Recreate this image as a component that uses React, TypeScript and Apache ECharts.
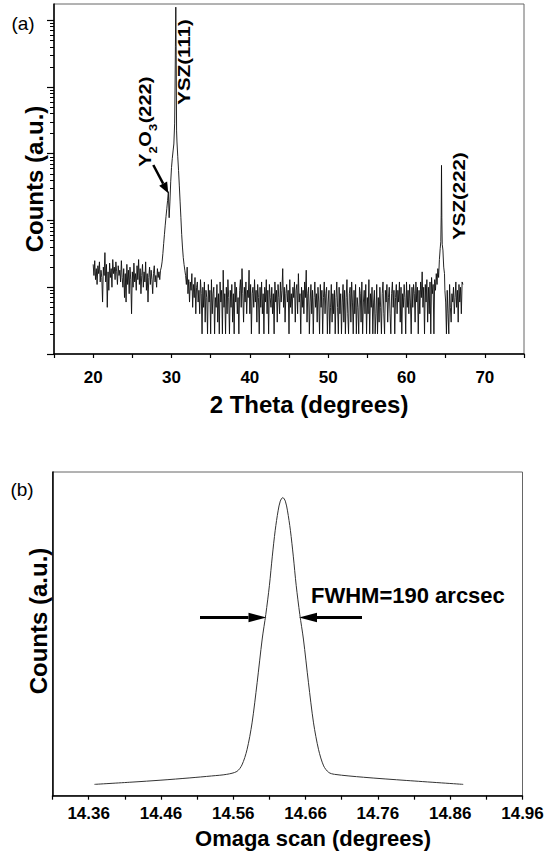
import React, { useEffect, useRef } from 'react';
import * as echarts from 'echarts';

// ---------- (a) XRD 2-theta scan ----------
const thetaStep = 0.1;
const noiseLeftStart = 20.0; // 20.0 .. 28.6
const noiseLeftCounts = [
  22, 15, 25, 13, 19, 11, 21, 16, 24, 12,
  18, 14, 6, 20, 15, 33, 12, 22, 5, 17,
  9, 23, 14, 19, 10, 26, 16, 20, 13, 24,
  17, 11, 21, 15, 18, 12, 25, 14, 10, 19,
  7, 16, 6, 22, 11, 18, 8, 20, 13, 4,
  17, 10, 23, 12, 16, 9, 21, 13, 26, 11,
  19, 8, 15, 22, 10, 17, 12, 24, 9, 16,
  6, 14, 20, 11, 18, 13, 8, 16, 21, 12,
  15, 10, 19, 14, 17, 13, 18,
];
const peak111Theta = [
  28.7, 28.8, 28.9, 29.0, 29.1, 29.2, 29.3, 29.4, 29.5, 29.6, 29.7, 29.8, 29.9, 30.0,
  30.1, 30.2, 30.3, 30.4, 30.45, 30.5, 30.55, 30.6, 30.65, 30.7, 30.8, 30.9, 31.0,
  31.1, 31.2, 31.3, 31.4, 31.5, 31.6, 31.7,
];
const peak111Counts = [
  20, 24, 32, 45, 62, 85, 115, 150, 200, 270, 110, 190, 380, 620,
  850, 1100, 1400, 2800, 9000, 40000, 157000, 30000, 2200, 1500, 900, 560, 330,
  190, 110, 62, 40, 28, 22, 18,
];
const noiseMidStart = 31.8; // 31.8 .. 63.9
const noiseMidCounts = [
  15, 11, 20, 8, 13, 6, 12, 9, 16, 5,
  11, 7, 14, 4, 10, 12, 6, 9, 4, 13,
  8, 2, 10, 5, 12, 3, 9, 7, 2, 11,
  6, 9, 2, 13, 4, 8, 10, 2, 7, 5,
  11, 3, 8, 2, 12, 6, 9, 2, 18, 5,
  8, 2, 10, 4, 13, 7, 2, 9, 5, 11,
  3, 8, 2, 12, 6, 10, 4, 7, 2, 9,
  13, 5, 19, 8, 3, 10, 6, 12, 4, 9,
  7, 18, 4, 11, 2, 8, 10, 5, 13, 6,
  9, 3, 11, 7, 2, 10, 5, 12, 4, 8,
  2, 10, 6, 13, 4, 9, 2, 11, 7, 5,
  10, 4, 8, 2, 12, 6, 9, 3, 11, 7,
  4, 12, 6, 9, 19, 5, 10, 3, 8, 11,
  6, 9, 2, 13, 5, 8, 4, 10, 7, 12,
  3, 9, 11, 4, 16, 6, 8, 2, 10, 5,
  9, 4, 12, 7, 18, 3, 8, 10, 2, 6,
  11, 4, 9, 2, 7, 12, 5, 8, 3, 10,
  6, 2, 11, 5, 9, 2, 7, 12, 4, 8,
  10, 2, 6, 9, 2, 5, 11, 3, 8, 4,
  9, 2, 7, 12, 5, 2, 10, 4, 8, 2,
  6, 11, 3, 9, 2, 7, 13, 4, 2, 8,
  10, 3, 12, 6, 2, 9, 4, 11, 2, 7,
  5, 2, 10, 8, 3, 12, 2, 6, 9, 4,
  11, 2, 7, 4, 13, 2, 8, 5, 10, 2,
  6, 9, 2, 4, 11, 2, 7, 3, 10, 5,
  2, 8, 12, 4, 2, 9, 6, 11, 3, 7,
  10, 4, 2, 8, 12, 5, 9, 2, 7, 11,
  4, 9, 6, 12, 3, 10, 2, 8, 5, 11,
  7, 2, 12, 5, 9, 4, 11, 6, 2, 10,
  5, 11, 8, 3, 12, 6, 10, 2, 9, 4,
  12, 7, 17, 5, 10, 2, 11, 6, 13, 3,
  10, 4, 12, 2, 14, 8, 11, 2, 13, 9,
  16, 11,
];
const peak222Theta = [64.0, 64.1, 64.2, 64.3, 64.38, 64.43, 64.47, 64.51, 64.56, 64.65, 64.75, 64.85, 64.9];
const peak222Counts = [19, 14, 26, 38, 48, 120, 670, 110, 44, 36, 20, 16, 9];
const noiseRightStart = 65.0; // 65.0 .. 67.2
const noiseRightCounts = [6, 2, 9, 4, 2, 11, 5, 3, 8, 6, 10, 4, 7, 12, 5, 9, 3, 11, 6, 10, 4, 12, 11];

const thetaLabels = [20, 30, 40, 50, 60, 70];
const logMajorTicks = [1, 10, 100, 1000, 10000, 100000];
const logMinorTicks = [
  2, 3, 4, 5, 6, 7, 8, 9,
  20, 30, 40, 50, 60, 70, 80, 90,
  200, 300, 400, 500, 600, 700, 800, 900,
  2000, 3000, 4000, 5000, 6000, 7000, 8000, 9000,
  20000, 30000, 40000, 50000, 60000, 70000, 80000, 90000,
];

// ---------- (b) omega rocking curve ----------
const omegaDeg = [
  14.368, 14.42, 14.46, 14.5, 14.53, 14.551, 14.565, 14.572, 14.579, 14.586, 14.593,
  14.6, 14.605, 14.61, 14.614, 14.618, 14.622, 14.625, 14.6285, 14.632, 14.635, 14.639,
  14.643, 14.647, 14.652, 14.657, 14.664, 14.671, 14.678, 14.685, 14.692, 14.7, 14.74,
  14.8, 14.878,
];
const omegaCounts = [
  35, 42, 48, 55, 61, 66, 75, 95, 142, 225, 349,
  484, 560, 650, 740, 820, 880, 910, 921, 910, 880, 820,
  740, 650, 560, 484, 349, 225, 142, 92, 72, 66, 57,
  47, 35,
];
const omegaTicks = [
  14.31, 14.36, 14.41, 14.46, 14.51, 14.56, 14.61, 14.66, 14.71, 14.76, 14.81, 14.86, 14.91, 14.96,
];
const omegaLabels = [14.36, 14.46, 14.56, 14.66, 14.76, 14.86, 14.96];

const FONT = 'Liberation Sans, Arial, Helvetica, sans-serif';

function stepped(start: number, counts: number[]) {
  return counts.map((c, i) => [Math.round((start + i * thetaStep) * 100) / 100, c]);
}

function txt(x: number, y: number, text: string, size: number, weight: string, extra: any = {}, align = 'center') {
  return {
    type: 'text',
    x,
    y,
    ...extra,
    style: {
      text,
      fontSize: size,
      fontWeight: weight,
      fontFamily: FONT,
      fill: '#000',
      align,
      verticalAlign: 'middle',
      textAlign: align,
      textVerticalAlign: 'middle',
    },
  };
}

function arrow(x1: number, y1: number, x2: number, y2: number, headLen: number, headHalf: number, width: number) {
  const dx = x2 - x1;
  const dy = y2 - y1;
  const len = Math.sqrt(dx * dx + dy * dy);
  const ux = dx / len;
  const uy = dy / len;
  const bx = x2 - ux * headLen;
  const by = y2 - uy * headLen;
  const nx = -uy;
  const ny = ux;
  return [
    { type: 'line', shape: { x1, y1, x2: bx, y2: by }, style: { stroke: '#000', lineWidth: width } },
    {
      type: 'polygon',
      shape: { points: [[x2, y2], [bx + nx * headHalf, by + ny * headHalf], [bx - nx * headHalf, by - ny * headHalf]] },
      style: { fill: '#000' },
    },
  ];
}

export default function App() {
  const ref = useRef<HTMLDivElement>(null);
  useEffect(() => {
    if (!ref.current) return;
    const chart = echarts.init(ref.current, undefined, { renderer: 'svg' });

    const xrdData = [
      ...stepped(noiseLeftStart, noiseLeftCounts),
      ...peak111Theta.map((t, i) => [t, peak111Counts[i]]),
      ...stepped(noiseMidStart, noiseMidCounts),
      ...peak222Theta.map((t, i) => [t, peak222Counts[i]]),
      ...stepped(noiseRightStart, noiseRightCounts),
    ];
    const omegaData = omegaDeg.map((w, i) => [w, omegaCounts[i]]);

    const axisLine = { show: true, onZero: false, lineStyle: { color: '#000', width: 1.5 } };
    const tickLabel = { fontSize: 17, fontWeight: 'bold', color: '#000', fontFamily: FONT };
    const rotAnno = { rotation: Math.PI / 2, scaleY: 0.8 };

    const option: any = {
      animation: false,
      grid: [
        { left: 54, top: 4, width: 470, height: 350, show: true, borderColor: '#666', borderWidth: 1 },
        { left: 52.5, top: 472, width: 470, height: 323.7, show: true, borderColor: '#666', borderWidth: 1 },
      ],
      xAxis: [
        {
          type: 'value', gridIndex: 0, min: 15, max: 75, interval: 5,
          axisLine,
          axisTick: { show: true, length: 4, lineStyle: { color: '#000', width: 1.2 } },
          axisLabel: { ...tickLabel, customValues: thetaLabels, margin: 15 },
          splitLine: { show: false },
        },
        {
          type: 'value', gridIndex: 1, min: 14.31, max: 14.96,
          axisLine,
          axisTick: { show: true, length: 4, customValues: omegaTicks, lineStyle: { color: '#000', width: 1.2 } },
          axisLabel: { ...tickLabel, fontSize: 17, customValues: omegaLabels, margin: 9, formatter: (v: number) => v.toFixed(2) },
          splitLine: { show: false },
        },
      ],
      yAxis: [
        {
          type: 'log', logBase: 10, gridIndex: 0, min: 1, max: 175000, position: 'left',
          axisLine,
          axisTick: { show: true, length: 7, customValues: logMajorTicks, lineStyle: { color: '#000', width: 1.2 } },
          axisLabel: { show: false },
          splitLine: { show: false },
        },
        {
          type: 'log', logBase: 10, gridIndex: 0, min: 1, max: 175000, position: 'left', offset: 0,
          axisLine: { show: false },
          axisTick: { show: true, length: 4, customValues: logMinorTicks, lineStyle: { color: '#000', width: 1 } },
          axisLabel: { show: false },
          splitLine: { show: false },
        },
        {
          type: 'value', gridIndex: 1, min: 0, max: 1000, position: 'left',
          axisLine,
          axisTick: { show: false },
          axisLabel: { show: false },
          splitLine: { show: false },
        },
      ],
      series: [
        {
          type: 'line', xAxisIndex: 0, yAxisIndex: 0, data: xrdData,
          symbol: 'none', showSymbol: false,
          lineStyle: { color: '#0d0d0d', width: 0.9 },
        },
        {
          type: 'line', xAxisIndex: 1, yAxisIndex: 2, data: omegaData,
          symbol: 'none', showSymbol: false, smooth: 0.3,
          lineStyle: { color: '#333', width: 1 },
        },
      ],
      graphic: [
        txt(23, 23, '(a)', 19, 'normal'),
        txt(22, 489, '(b)', 19, 'normal'),
        txt(34, 179, 'Counts (a.u.)', 24, 'bold', { rotation: Math.PI / 2 }),
        txt(38, 621, 'Counts (a.u.)', 24, 'bold', { rotation: Math.PI / 2 }),
        txt(309, 404, '2 Theta (degrees)', 24, 'bold'),
        txt(313, 838, 'Omaga scan (degrees)', 22, 'bold'),
        txt(184.7, 62, 'YSZ(111)', 20.5, 'bold', rotAnno),
        txt(459, 196, 'YSZ(222)', 20.5, 'bold', rotAnno),
        txt(146, 160, 'Y', 20, 'bold', rotAnno),
        txt(153.5, 150, '2', 13, 'bold', rotAnno),
        txt(146, 139, 'O', 20, 'bold', rotAnno),
        txt(153.5, 127.5, '3', 13, 'bold', rotAnno),
        txt(146, 100, '(222)', 20, 'bold', rotAnno),
        txt(311, 595, 'FWHM=190 arcsec', 22, 'bold', {}, 'left'),
        ...arrow(153.3, 165, 168.3, 193.3, 11, 4.5, 2.5),
        ...arrow(200, 617.5, 266.5, 617.5, 18, 4.7, 3),
        ...arrow(362, 617.5, 299, 617.5, 18, 4.7, 3),
      ],
    };
    chart.setOption(option);
    return () => chart.dispose();
  }, []);
  return (
    <div
      ref={ref}
      style={{ position: 'fixed', left: 0, top: 0, width: 549, height: 851, background: '#fff' }}
    />
  );
}
